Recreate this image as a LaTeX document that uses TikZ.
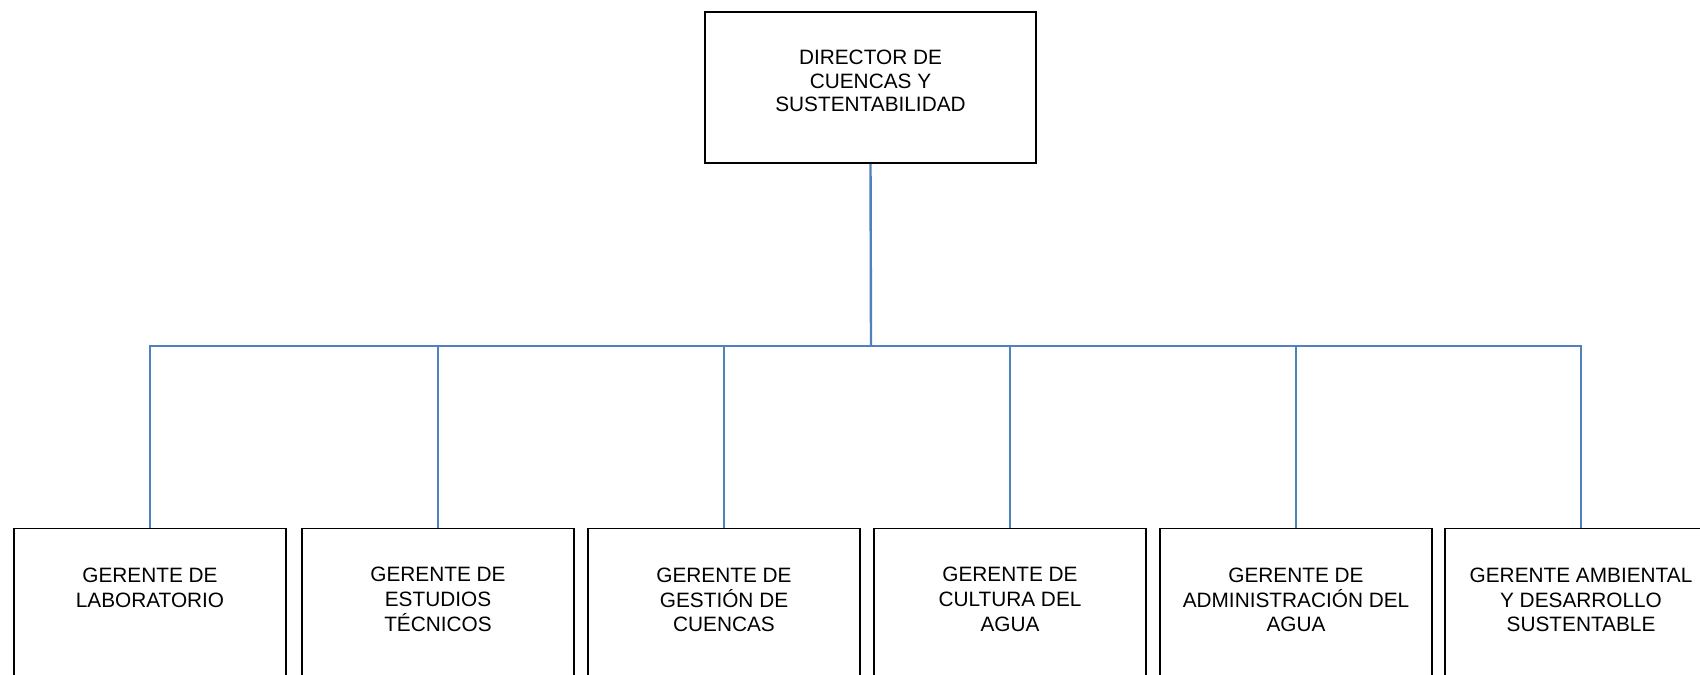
\documentclass[tikz,border=0pt]{standalone}
\usepackage{fontspec}
\setmainfont{Liberation Sans}
\definecolor{linkblue}{HTML}{4F81BD}
\begin{document}
\begin{tikzpicture}[x=0.5pt,y=-0.5pt,
  every node/.style={font=\fontsize{10.4}{12.3}\selectfont},
  topbox/.style={draw=black,line width=0.8pt,rectangle,inner sep=0pt,minimum width=165.5pt,minimum height=75.5pt},
  mgrbox/.style={draw=black,line width=0.8pt,rectangle,inner sep=0pt,minimum width=136pt,minimum height=100pt},
  boxtext/.style={align=center,inner sep=0pt,anchor=north},
  link/.style={draw=linkblue,line width=1.2pt}]
\clip (0,0) rectangle (1700,674);
\fill[white] (0,0) rectangle (1700,674);
% director
\node[topbox] (dir) at (870.5,87.5) {};
\node[align=center,inner sep=0pt,font=\fontsize{10.4}{11.8}\selectfont] (dirt) at (870.5,81) {DIRECTOR DE\\CUENCAS Y\\SUSTENTABILIDAD};
% managers
\node[mgrbox] (b1) at (150,628.5) {};
\node[mgrbox] (b2) at (438,628.5) {};
\node[mgrbox] (b3) at (724,628.5) {};
\node[mgrbox] (b4) at (1010,628.5) {};
\node[mgrbox] (b5) at (1296,628.5) {};
\node[mgrbox] (b6) at (1581,628.5) {};
\node[boxtext] (t1) at (150,567.5) {GERENTE DE\\LABORATORIO};
\node[boxtext] (t2) at (438,567) {GERENTE DE\\ESTUDIOS\\TÉCNICOS};
\node[boxtext] (t3) at (724,567.5) {GERENTE DE\\GESTIÓN DE\\CUENCAS};
\node[boxtext] (t4) at (1010,567) {GERENTE DE\\CULTURA DEL\\AGUA};
\node[boxtext] (t5) at (1296,567.5) {GERENTE DE\\ADMINISTRACIÓN DEL\\AGUA};
\node[boxtext] (t6) at (1581,567.5) {GERENTE AMBIENTAL\\Y DESARROLLO\\SUSTENTABLE};
% connectors
\coordinate (bus) at (871,346);
\draw[link] (dir.south) -- (bus);
\foreach \b in {b1,b2,b3,b4,b5,b6}{
  \draw[link] (\b.north) |- (bus);
}
\end{tikzpicture}
\end{document}
